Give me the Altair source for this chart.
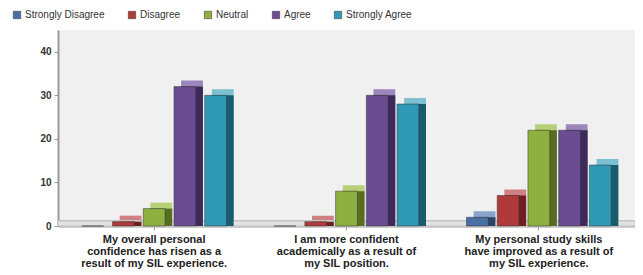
import altair as alt
import pandas as pd

questions = [
    "My overall personal|confidence has risen as a|result of my SIL experience.",
    "I am more confident|academically as a result of|my SIL position.",
    "My personal study skills|have improved as a result of|my SIL experience.",
]
responses = ["Strongly Disagree", "Disagree", "Neutral", "Agree", "Strongly Agree"]
strongly_disagree = [0, 0, 2]
disagree = [1, 1, 7]
neutral = [4, 8, 22]
agree = [32, 30, 22]
strongly_agree = [30, 28, 14]

front_colors = ["#4a6fa5", "#b03a3a", "#8db041", "#6b4c93", "#2f98b5"]
dark_colors = ["#2c4468", "#6e2020", "#566d22", "#3e2a58", "#1b5b6e"]
light_colors = ["#8aa3c8", "#d08080", "#b8d078", "#9c86bc", "#7cc0d2"]

series = [strongly_disagree, disagree, neutral, agree, strongly_agree]
rows = []
for r, vals in zip(responses, series):
    for q, v in zip(questions, vals):
        rows.append({"q": q, "r": r, "v": v})
df = pd.DataFrame(rows)

FONT = "Liberation Sans"

x_enc = alt.X(
    "q:N",
    sort=questions,
    scale=alt.Scale(paddingInner=0, paddingOuter=0),
    axis=alt.Axis(
        title=None,
        labelAngle=0,
        labelExpr="split(datum.label, '|')",
        labelFont=FONT,
        labelFontSize=11,
        labelFontWeight="bold",
        labelColor="#222222",
        labelLineHeight=12,
        labelPadding=3,
        domainColor="#a0a0a0",
        domainWidth=2,
        tickColor="#a0a0a0",
        tickSize=4,
    ),
)
y_enc = alt.Y(
    "v:Q",
    scale=alt.Scale(domain=[0, 45]),
    axis=alt.Axis(
        title=None,
        values=[0, 10, 20, 30, 40],
        labelFont=FONT,
        labelFontSize=10,
        labelFontWeight="bold",
        labelColor="#333333",
        labelPadding=3,
        domainColor="#999999",
        domainWidth=2,
        tickColor="#999999",
        tickSize=4,
        gridColor="#d9d9d9",
    ),
)

front_off = alt.XOffset(
    "r:N", sort=responses, scale=alt.Scale(paddingInner=0.29, paddingOuter=0.775)
)
back_off = alt.XOffset(
    "r:N", sort=responses, scale=alt.Scale(paddingInner=0.29, paddingOuter=0.775, align=0.65)
)

floor = alt.Chart(df).mark_rect(
    color="#e2e2e2", stroke="#c4c4c4", strokeWidth=1, y2Offset=-5
).encode(y=alt.datum(0), y2=alt.datum(0))

top_layer = alt.Chart(df).mark_bar(yOffset=-6).encode(
    x=x_enc, y=y_enc, xOffset=back_off,
    color=alt.Color("r:N", sort=responses, scale=alt.Scale(domain=responses, range=light_colors), legend=None),
)
side_layer = alt.Chart(df).mark_bar().encode(
    x=x_enc, y=y_enc, xOffset=back_off,
    color=alt.Color("r:N", sort=responses, scale=alt.Scale(domain=responses, range=dark_colors), legend=None),
)
front_layer = alt.Chart(df).mark_bar(stroke="#333333", strokeWidth=0.5).encode(
    x=x_enc, y=y_enc, xOffset=front_off,
    color=alt.Color(
        "r:N",
        sort=responses,
        scale=alt.Scale(domain=responses, range=front_colors),
        legend=alt.Legend(
            title=None,
            orient="none",
            legendX=-46,
            legendY=-20,
            direction="horizontal",
            columns=5,
            columnPadding=22,
            symbolType="square",
            symbolSize=55,
            symbolStrokeColor="#333333",
            symbolStrokeWidth=0.5,
            labelFont=FONT,
            labelFontSize=10,
            labelColor="#333333",
            labelOffset=3,
        ),
    ),
)

chart = (
    alt.layer(floor, top_layer, side_layer, front_layer)
    .resolve_scale(color="independent", xOffset="independent")
    .properties(
        width=577,
        height=196,
        autosize=alt.AutoSizeParams(type="none"),
        padding={"left": 50, "top": 22, "right": 0, "bottom": 45},
        background="white",
    )
    .configure_view(stroke=None, fill="#f0f0f0")
)

chart.save("out.html", embed_options={"renderer": "svg", "actions": False})
